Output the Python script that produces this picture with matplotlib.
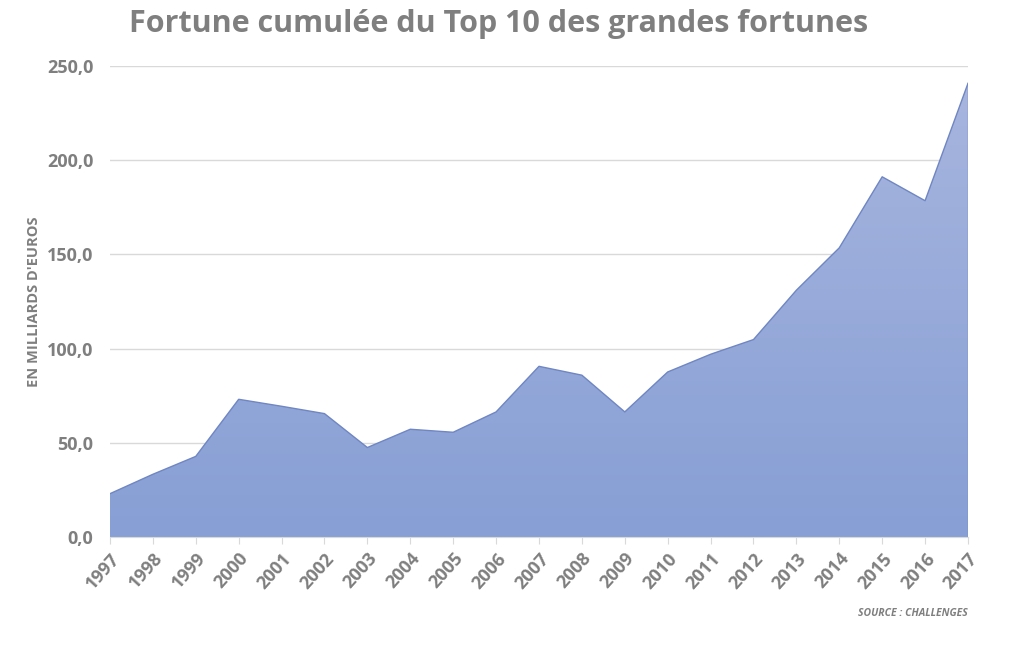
import numpy as np
import matplotlib
matplotlib.use("Agg")
import matplotlib.pyplot as plt
from matplotlib.colors import LinearSegmentedColormap

years = list(range(1997, 2018))
fortune = [23.0, 33.3, 42.8, 73.1, 69.4, 65.5, 47.5, 57.2, 55.6, 66.4, 90.6,
           85.9, 66.4, 87.6, 97.0, 104.8, 131.0, 153.5, 191.2, 178.5, 240.8]
yticks = [0, 50, 100, 150, 200, 250]

gray = "#7f7f7f"
plt.rcParams['font.family'] = ['Open Sans', 'DejaVu Sans']

fig = plt.figure(figsize=(10.24, 6.46), dpi=100)
ax = fig.add_axes([0.1074, 0.1687, 0.8379, 0.7291])

x = np.arange(len(years))
poly = ax.fill_between(x, fortune, 0, color="none", lw=0)
# gradient fill, clipped to the area
cmap = LinearSegmentedColormap.from_list("g", ["#879fd5", "#a7b5de"])
grad = np.linspace(0, 1, 256).reshape(-1, 1)
im = ax.imshow(grad, cmap=cmap, aspect="auto", origin="lower",
               extent=[x[0], x[-1], 0, max(fortune)], zorder=2)
path = poly.get_paths()[0]
im.set_clip_path(path, transform=ax.transData)
ax.plot(x, fortune, color="#6f86c2", lw=1, zorder=3)
ax.plot([x[-1], x[-1]], [0, fortune[-1]], color="#6f86c2", lw=1, zorder=3)

ax.set_xlim(x[0], x[-1])
ax.set_ylim(0, 250)
ax.set_yticks(yticks)
ax.set_yticklabels([f"{v:.1f}".replace(".", ",") for v in yticks],
                   fontsize=13, fontweight="bold", color=gray)
ax.set_xticks(x)
ax.set_xticklabels([str(y) for y in years], rotation=48, ha="right",
                   rotation_mode="anchor", fontsize=13, fontweight="bold",
                   color=gray)
ax.grid(axis="y", color="#d9d9d9", lw=1, zorder=0)
ax.set_axisbelow(True)
for s in ["top", "right", "left"]:
    ax.spines[s].set_visible(False)
ax.spines["bottom"].set_color("#d9d9d9")
ax.tick_params(axis="y", length=0, pad=12)
ax.tick_params(axis="x", length=5, color="#d9d9d9", pad=4)

ax.set_ylabel("EN MILLIARDS D'EUROS", fontsize=10.5, fontweight="bold",
              color=gray, labelpad=4)

fig.text(0.487, 0.963, "Fortune cumulée du Top 10 des grandes fortunes",
         ha="center", va="center", fontsize=22, fontweight="bold", color=gray)
fig.text(0.945, 0.050, "SOURCE : CHALLENGES", ha="right", va="center",
         fontsize=7.5, fontstyle="italic", fontweight="bold", color=gray)

fig.savefig("out.png", dpi=100)
